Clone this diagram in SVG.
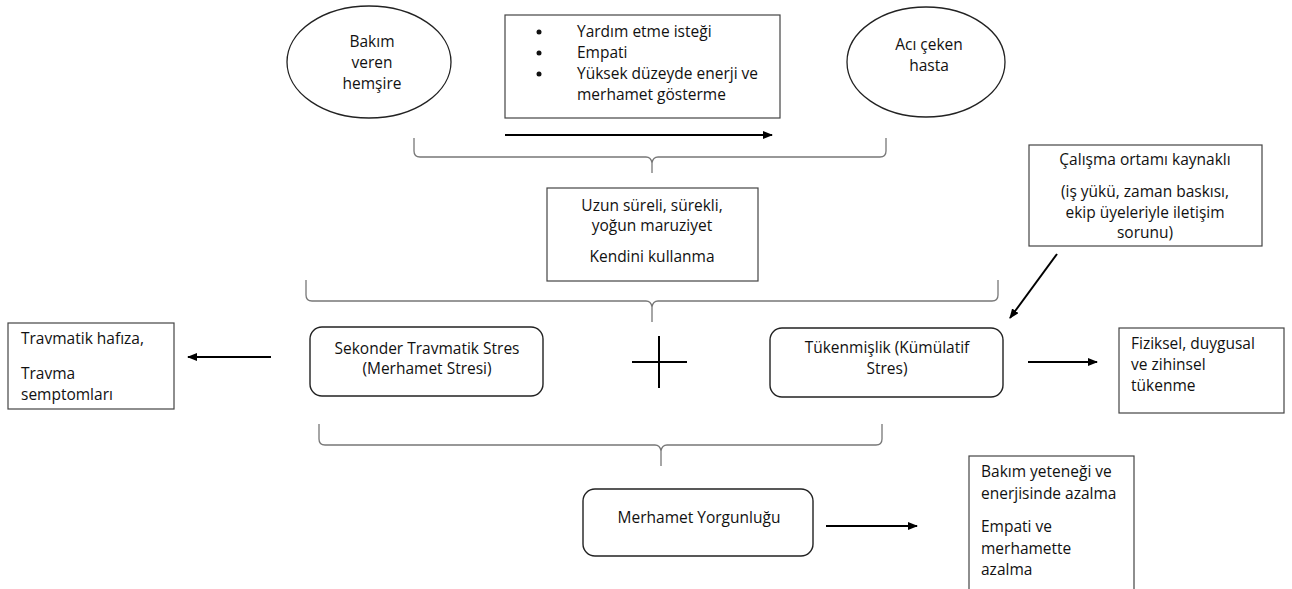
<svg xmlns="http://www.w3.org/2000/svg" width="1292" height="589" viewBox="0 0 1292 589">
<defs>
<marker id="ah" markerWidth="10" markerHeight="8" refX="9" refY="4" orient="auto" markerUnits="userSpaceOnUse">
<path d="M0,0 L10,4 L0,8 Z" fill="#000"/>
</marker>
<style>
.t{font-family:"Open Sans","Liberation Sans",sans-serif;font-size:15.5px;fill:#111}
.m{text-anchor:middle}
.box{fill:#fff;stroke:#444;stroke-width:1.2}
.rbox{fill:#fff;stroke:#222;stroke-width:1.4}
.el{fill:#fff;stroke:#222;stroke-width:1.3}
.br{fill:none;stroke:#777;stroke-width:1.3}
.ar{fill:none;stroke:#000;stroke-width:2;marker-end:url(#ah)}
</style>
</defs>
<rect width="1292" height="589" fill="#fff"/>

<g id="nurse">
<ellipse class="el" cx="369" cy="62" rx="82" ry="56"/>
<text class="t m" x="372" y="47">Bakım</text>
<text class="t m" x="372" y="68">veren</text>
<text class="t m" x="372" y="89">hemşire</text>
</g>

<g id="qualities">
<rect class="box" x="505" y="15" width="275" height="103"/>
<circle cx="539" cy="32" r="2.5" fill="#111"/>
<circle cx="539" cy="53" r="2.5" fill="#111"/>
<circle cx="539" cy="74" r="2.5" fill="#111"/>
<text class="t" x="577" y="37">Yardım etme isteği</text>
<text class="t" x="577" y="58">Empati</text>
<text class="t" x="577" y="79">Yüksek düzeyde enerji ve</text>
<text class="t" x="577" y="100">merhamet gösterme</text>
</g>

<g id="patient">
<ellipse class="el" cx="926" cy="62" rx="79" ry="55"/>
<text class="t m" x="929" y="50">Acı çeken</text>
<text class="t m" x="929" y="71">hasta</text>
</g>

<g id="exposure">
<rect class="box" x="547" y="188" width="211" height="93"/>
<text class="t m" x="652" y="211">Uzun süreli, sürekli,</text>
<text class="t m" x="652" y="231">yoğun maruziyet</text>
<text class="t m" x="652" y="262">Kendini kullanma</text>
</g>

<g id="workplace">
<rect class="box" x="1029" y="145" width="233" height="101"/>
<text class="t m" x="1145" y="165">Çalışma ortamı kaynaklı</text>
<text class="t m" x="1145" y="197">(iş yükü, zaman baskısı,</text>
<text class="t m" x="1145" y="218">ekip üyeleriyle iletişim</text>
<text class="t m" x="1145" y="238">sorunu)</text>
</g>

<g id="trauma">
<rect class="box" x="8" y="323" width="166" height="86"/>
<text class="t" x="21" y="344">Travmatik hafıza,</text>
<text class="t" x="21" y="379">Travma</text>
<text class="t" x="21" y="400">semptomları</text>
</g>

<g id="sts">
<rect class="rbox" x="310" y="327" width="233" height="69" rx="12"/>
<text class="t m" x="427" y="354">Sekonder Travmatik Stres</text>
<text class="t m" x="427" y="374">(Merhamet Stresi)</text>
</g>

<g id="plus">
<line x1="632" y1="362" x2="687" y2="362" stroke="#000" stroke-width="2"/>
<line x1="659" y1="336" x2="659" y2="388" stroke="#000" stroke-width="2"/>
</g>

<g id="burnout">
<rect class="rbox" x="770" y="328" width="233" height="69" rx="12"/>
<text class="t m" x="887" y="353">Tükenmişlik (Kümülatif</text>
<text class="t m" x="887" y="374">Stres)</text>
</g>

<g id="exhaustion">
<rect class="box" x="1119" y="328" width="165" height="85"/>
<text class="t" x="1131" y="349">Fiziksel, duygusal</text>
<text class="t" x="1131" y="370">ve zihinsel</text>
<text class="t" x="1131" y="391">tükenme</text>
</g>

<g id="fatigue">
<rect class="rbox" x="583" y="489" width="230" height="67" rx="12"/>
<text class="t m" x="699" y="523">Merhamet Yorgunluğu</text>
</g>

<g id="decrease">
<rect class="box" x="969" y="456" width="165" height="140"/>
<text class="t" x="981" y="477">Bakım yeteneği ve</text>
<text class="t" x="981" y="499">enerjisinde azalma</text>
<text class="t" x="981" y="532">Empati ve</text>
<text class="t" x="981" y="554">merhamette</text>
<text class="t" x="981" y="575">azalma</text>
</g>

<g id="connectors">
<line class="ar" x1="505" y1="135" x2="772" y2="135"/>
<line class="ar" x1="1057" y1="254" x2="1010" y2="318"/>
<line class="ar" x1="271" y1="357" x2="188" y2="357"/>
<line class="ar" x1="1028" y1="362" x2="1097" y2="362"/>
<line class="ar" x1="826" y1="526" x2="917" y2="526"/>
<path class="br" d="M414,138 L414,151 Q414,157 420,157 L646,157 Q651,157 652,163 L652,173 M652,163 Q653,157 658,157 L880,157 Q886,157 886,151 L886,138"/>
<path class="br" d="M306,280 L306,295 Q306,301 312,301 L646,301 Q651,301 652,307 L652,322 M652,307 Q653,301 658,301 L992,301 Q998,301 998,295 L998,280"/>
<path class="br" d="M319,424 L319,439 Q319,445 325,445 L655,445 Q660,445 661,451 L661,466 M661,451 Q662,445 667,445 L876,445 Q882,445 882,439 L882,424"/>
</g>
</svg>
